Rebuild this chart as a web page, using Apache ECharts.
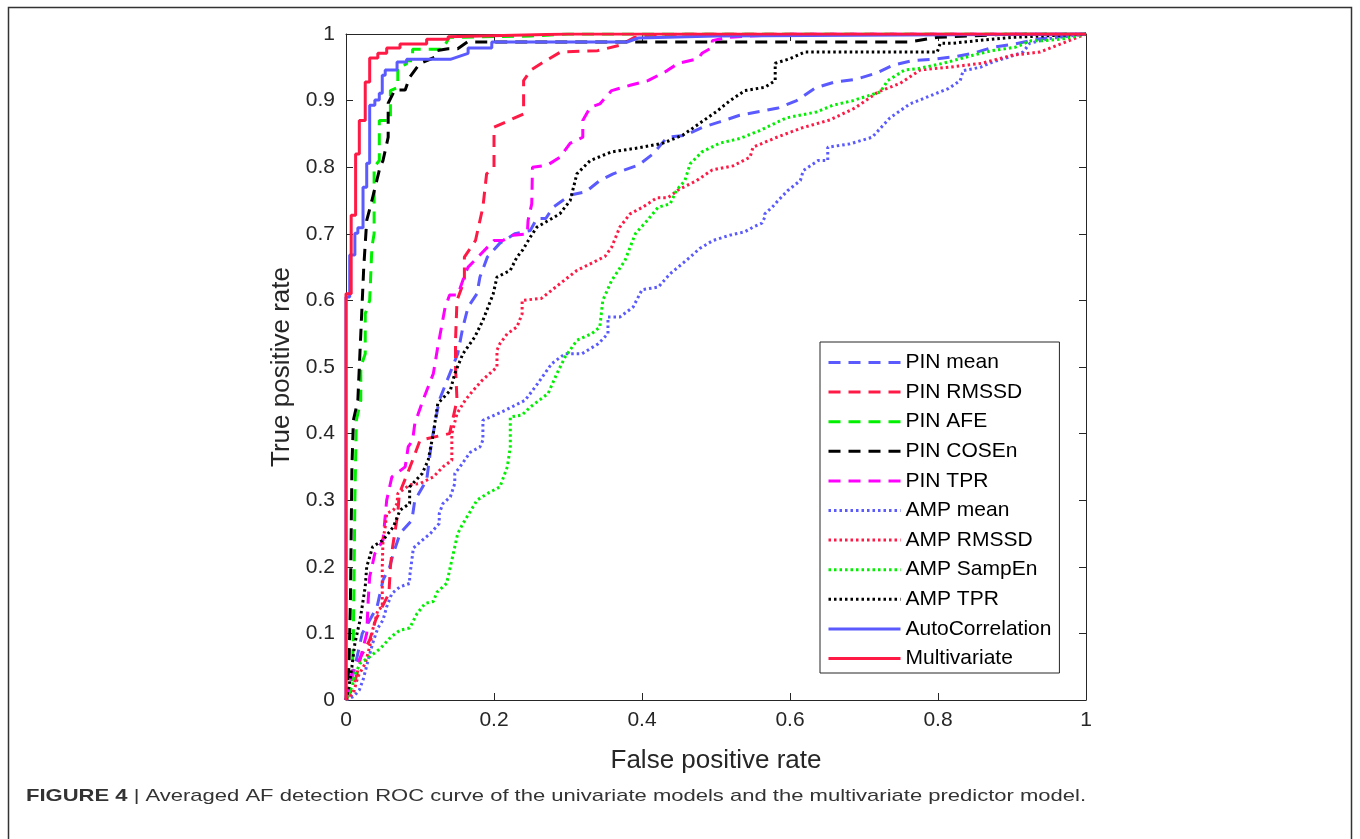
<!DOCTYPE html>
<html>
<head>
<meta charset="utf-8">
<script src="https://cdn.jsdelivr.net/npm/echarts@6/dist/echarts.min.js"></script>
<style>
html,body{margin:0;padding:0;background:#fff;}
#chart{width:1360px;height:839px;}
</style>
</head>
<body>
<div id="chart"></div>
<script>
// ---- Data (x = false positive rate, y = true positive rate) ----
const xTicks = [0, 0.2, 0.4, 0.6, 0.8, 1];
const yTicks = [0, 0.1, 0.2, 0.3, 0.4, 0.5, 0.6, 0.7, 0.8, 0.9, 1];

const pinMean = [[0,0],[0.01,0.04],[0.022,0.1],[0.042,0.14],[0.05,0.18],[0.059,0.2],[0.064,0.22],[0.073,0.25],[0.089,0.27],[0.093,0.3],[0.109,0.33],[0.116,0.39],[0.126,0.45],[0.151,0.52],[0.158,0.56],[0.165,0.59],[0.177,0.61],[0.181,0.635],[0.191,0.665],[0.208,0.686],[0.228,0.7],[0.249,0.705],[0.258,0.723],[0.27,0.723],[0.28,0.74],[0.303,0.758],[0.324,0.763],[0.343,0.78],[0.361,0.79],[0.395,0.803],[0.415,0.82],[0.434,0.845],[0.459,0.848],[0.482,0.86],[0.505,0.868],[0.532,0.878],[0.584,0.889],[0.609,0.9],[0.634,0.919],[0.661,0.928],[0.689,0.932],[0.716,0.941],[0.739,0.953],[0.765,0.96],[0.792,0.962],[0.824,0.966],[0.847,0.971],[0.874,0.98],[0.904,0.985],[0.938,0.993],[1,1]];

const pinRmssd = [[0,0],[0.01,0.02],[0.015,0.04],[0.02,0.065],[0.032,0.09],[0.04,0.12],[0.058,0.16],[0.06,0.2],[0.063,0.23],[0.07,0.28],[0.072,0.31],[0.083,0.34],[0.09,0.36],[0.1,0.39],[0.14,0.4],[0.15,0.45],[0.148,0.5],[0.148,0.54],[0.15,0.6],[0.16,0.63],[0.16,0.665],[0.175,0.69],[0.185,0.74],[0.19,0.79],[0.2,0.8],[0.2,0.86],[0.22,0.87],[0.24,0.88],[0.24,0.93],[0.25,0.946],[0.27,0.96],[0.29,0.973],[0.34,0.975],[0.37,0.983],[0.39,0.995],[0.45,1],[1,1]];

const pinAfe = [[0,0],[0.008,0.02],[0.01,0.1],[0.012,0.3],[0.014,0.42],[0.02,0.45],[0.02,0.5],[0.026,0.52],[0.026,0.58],[0.032,0.6],[0.035,0.68],[0.038,0.7],[0.038,0.8],[0.045,0.81],[0.045,0.87],[0.06,0.87],[0.06,0.915],[0.07,0.92],[0.07,0.95],[0.082,0.955],[0.082,0.96],[0.09,0.96],[0.09,0.977],[0.13,0.977],[0.14,0.995],[0.25,0.997],[0.3,1],[1,1]];

const pinCosen = [[0,0],[0.004,0.05],[0.006,0.15],[0.008,0.35],[0.01,0.42],[0.016,0.45],[0.02,0.55],[0.024,0.65],[0.028,0.72],[0.035,0.75],[0.046,0.8],[0.05,0.81],[0.057,0.845],[0.057,0.896],[0.066,0.916],[0.08,0.916],[0.086,0.935],[0.1,0.956],[0.12,0.965],[0.123,0.975],[0.138,0.978],[0.151,0.978],[0.164,0.988],[0.76,0.988],[0.8,0.995],[0.9,1],[1,1]];

const pinTpr = [[0,0],[0.008,0.04],[0.02,0.065],[0.028,0.1],[0.03,0.15],[0.032,0.185],[0.039,0.22],[0.05,0.24],[0.055,0.3],[0.062,0.335],[0.08,0.35],[0.084,0.38],[0.09,0.39],[0.093,0.415],[0.104,0.45],[0.118,0.49],[0.124,0.53],[0.134,0.59],[0.14,0.608],[0.151,0.608],[0.161,0.64],[0.165,0.65],[0.2,0.69],[0.212,0.69],[0.226,0.698],[0.245,0.7],[0.246,0.72],[0.251,0.745],[0.252,0.8],[0.272,0.803],[0.289,0.815],[0.303,0.836],[0.32,0.845],[0.32,0.87],[0.33,0.89],[0.343,0.895],[0.359,0.915],[0.384,0.923],[0.408,0.93],[0.431,0.943],[0.449,0.956],[0.476,0.963],[0.481,0.971],[0.495,0.98],[0.495,0.99],[0.515,0.995],[0.6,1],[1,1]];

const ampMean = [[0,0],[0.01,0.005],[0.018,0.015],[0.023,0.03],[0.03,0.06],[0.036,0.085],[0.043,0.108],[0.05,0.12],[0.055,0.14],[0.062,0.16],[0.073,0.17],[0.086,0.175],[0.086,0.185],[0.089,0.21],[0.091,0.228],[0.1,0.237],[0.114,0.25],[0.126,0.265],[0.126,0.28],[0.131,0.295],[0.141,0.305],[0.147,0.325],[0.147,0.34],[0.154,0.35],[0.168,0.372],[0.181,0.38],[0.185,0.39],[0.185,0.42],[0.215,0.435],[0.242,0.45],[0.259,0.475],[0.278,0.505],[0.296,0.52],[0.319,0.52],[0.341,0.535],[0.354,0.55],[0.354,0.575],[0.37,0.575],[0.388,0.59],[0.4,0.616],[0.422,0.62],[0.438,0.64],[0.449,0.65],[0.465,0.665],[0.478,0.678],[0.496,0.69],[0.519,0.698],[0.539,0.703],[0.55,0.71],[0.562,0.716],[0.566,0.725],[0.566,0.73],[0.576,0.74],[0.584,0.75],[0.597,0.765],[0.614,0.78],[0.618,0.795],[0.638,0.81],[0.651,0.81],[0.651,0.83],[0.681,0.835],[0.711,0.845],[0.735,0.874],[0.762,0.895],[0.789,0.907],[0.814,0.918],[0.83,0.93],[0.834,0.945],[0.857,0.95],[0.874,0.958],[0.895,0.965],[0.915,0.973],[0.924,0.986],[0.949,0.993],[1,1]];

const ampRmssd = [[0,0],[0.01,0.01],[0.016,0.035],[0.026,0.055],[0.032,0.08],[0.036,0.105],[0.043,0.135],[0.049,0.14],[0.049,0.2],[0.05,0.24],[0.053,0.26],[0.055,0.28],[0.064,0.285],[0.069,0.295],[0.07,0.31],[0.086,0.323],[0.1,0.325],[0.118,0.335],[0.131,0.35],[0.143,0.36],[0.143,0.4],[0.15,0.43],[0.161,0.45],[0.172,0.465],[0.184,0.48],[0.204,0.5],[0.204,0.525],[0.208,0.535],[0.218,0.55],[0.231,0.56],[0.238,0.58],[0.238,0.6],[0.264,0.603],[0.289,0.625],[0.312,0.645],[0.332,0.656],[0.35,0.666],[0.359,0.68],[0.37,0.71],[0.384,0.73],[0.401,0.74],[0.42,0.754],[0.435,0.754],[0.449,0.766],[0.474,0.78],[0.495,0.796],[0.523,0.802],[0.546,0.815],[0.55,0.83],[0.58,0.844],[0.616,0.859],[0.654,0.871],[0.688,0.889],[0.719,0.913],[0.749,0.926],[0.776,0.946],[0.814,0.95],[0.859,0.956],[0.9,0.968],[0.938,0.973],[0.961,0.983],[1,1]];

const ampSampEn = [[0,0],[0.008,0.02],[0.013,0.04],[0.019,0.055],[0.032,0.065],[0.046,0.077],[0.061,0.095],[0.073,0.105],[0.086,0.108],[0.096,0.13],[0.107,0.145],[0.118,0.148],[0.123,0.162],[0.136,0.175],[0.141,0.2],[0.147,0.23],[0.151,0.25],[0.158,0.265],[0.169,0.285],[0.177,0.3],[0.191,0.31],[0.208,0.32],[0.218,0.35],[0.222,0.38],[0.222,0.425],[0.238,0.428],[0.249,0.44],[0.273,0.46],[0.285,0.49],[0.296,0.515],[0.312,0.54],[0.332,0.55],[0.343,0.56],[0.347,0.6],[0.359,0.63],[0.377,0.66],[0.391,0.7],[0.407,0.72],[0.422,0.74],[0.438,0.745],[0.447,0.766],[0.458,0.78],[0.465,0.805],[0.481,0.823],[0.505,0.836],[0.532,0.843],[0.559,0.855],[0.595,0.874],[0.636,0.883],[0.658,0.893],[0.685,0.9],[0.722,0.913],[0.732,0.93],[0.755,0.946],[0.773,0.948],[0.807,0.956],[0.847,0.968],[0.873,0.975],[0.904,0.98],[0.926,0.99],[0.945,0.99],[0.97,0.993],[1,1]];

const ampTpr = [[0,0],[0.004,0.02],[0.008,0.05],[0.012,0.085],[0.019,0.12],[0.026,0.17],[0.028,0.2],[0.036,0.23],[0.05,0.24],[0.064,0.26],[0.073,0.285],[0.086,0.295],[0.086,0.32],[0.103,0.34],[0.111,0.36],[0.118,0.4],[0.124,0.445],[0.141,0.465],[0.147,0.49],[0.158,0.52],[0.174,0.545],[0.185,0.57],[0.192,0.59],[0.199,0.61],[0.204,0.635],[0.222,0.645],[0.231,0.665],[0.239,0.676],[0.249,0.695],[0.258,0.71],[0.289,0.73],[0.303,0.75],[0.312,0.79],[0.33,0.81],[0.359,0.823],[0.395,0.829],[0.428,0.836],[0.455,0.848],[0.478,0.866],[0.5,0.883],[0.519,0.9],[0.539,0.915],[0.566,0.92],[0.58,0.93],[0.58,0.956],[0.6,0.963],[0.62,0.973],[0.799,0.973],[0.803,0.986],[0.819,0.986],[0.861,0.991],[0.9,0.995],[1,1]];

const autoCorr = [[0,0],[0,0.605],[0.005,0.605],[0.005,0.668],[0.012,0.668],[0.012,0.701],[0.016,0.701],[0.016,0.709],[0.023,0.709],[0.023,0.77],[0.028,0.77],[0.028,0.806],[0.032,0.806],[0.032,0.893],[0.039,0.893],[0.039,0.901],[0.045,0.901],[0.045,0.911],[0.049,0.911],[0.049,0.938],[0.053,0.938],[0.053,0.946],[0.069,0.946],[0.069,0.958],[0.082,0.958],[0.082,0.962],[0.141,0.962],[0.165,0.971],[0.165,0.979],[0.197,0.979],[0.197,0.988],[0.38,0.988],[0.395,0.994],[0.5,0.997],[1,1]];

const multivariate = [[0,0],[0,0.61],[0.007,0.61],[0.007,0.728],[0.013,0.728],[0.013,0.82],[0.018,0.82],[0.018,0.87],[0.026,0.87],[0.026,0.928],[0.032,0.928],[0.032,0.964],[0.043,0.964],[0.043,0.971],[0.055,0.971],[0.055,0.979],[0.073,0.979],[0.073,0.985],[0.109,0.985],[0.109,0.992],[0.138,0.992],[0.138,0.996],[0.3,1],[1,1]];

const seriesNames = ['PIN mean','PIN RMSSD','PIN AFE','PIN COSEn','PIN TPR','AMP mean','AMP RMSSD','AMP SampEn','AMP TPR','AutoCorrelation','Multivariate'];
const seriesData = [pinMean, pinRmssd, pinAfe, pinCosen, pinTpr, ampMean, ampRmssd, ampSampEn, ampTpr, autoCorr, multivariate];

// ---- Styles ----
const BLUE = '#5a5aff', RED = '#ff1a46', GREEN = '#00f000', BLACK = '#000000', MAGENTA = '#ff00ff';
const seriesColors = [BLUE, RED, GREEN, BLACK, MAGENTA, BLUE, RED, GREEN, BLACK, BLUE, RED];
const DASH = [12, 8], DOT = [2.5, 3];
const seriesDash = [DASH, DASH, DASH, DASH, DASH, DOT, DOT, DOT, DOT, 'solid', 'solid'];
const FONT = "'Liberation Sans', Arial, Helvetica, sans-serif";
const AX = '#262626';

const chart = echarts.init(document.getElementById('chart'), null, {renderer: 'canvas'});

const series = seriesNames.map((n, i) => ({
  name: n,
  type: 'line',
  data: seriesData[i],
  xAxisIndex: 0,
  yAxisIndex: 0,
  showSymbol: false,
  symbol: 'none',
  animation: false,
  lineStyle: {color: seriesColors[i], width: 3, type: seriesDash[i], cap: 'butt'},
  itemStyle: {color: seriesColors[i]},
  z: 2 + i
}));

const axisCommon = {
  type: 'value', min: 0, max: 1,
  splitLine: {show: false},
  axisLine: {show: true, onZero: false, lineStyle: {color: AX, width: 1}},
  axisTick: {show: true, inside: true, length: 7, lineStyle: {color: AX, width: 1}},
};

const option = {
  backgroundColor: '#ffffff',
  animation: false,
  grid: {left: 346, right: 274, top: 34, bottom: 139, containLabel: false},
  xAxis: [
    Object.assign({}, axisCommon, {
      position: 'bottom', interval: 0.2,
      axisLabel: {show: true, margin: 10, fontSize: 21, color: AX, fontFamily: FONT},
      name: 'False positive rate', nameLocation: 'middle', nameGap: 48,
      nameTextStyle: {fontSize: 26, color: AX, fontFamily: FONT}
    }),
    Object.assign({}, axisCommon, {position: 'top', interval: 0.2, axisLabel: {show: false}})
  ],
  yAxis: [
    Object.assign({}, axisCommon, {
      position: 'left', interval: 0.1,
      axisLabel: {show: true, margin: 11, fontSize: 21, color: AX, fontFamily: FONT},
      name: 'True positive rate', nameLocation: 'middle', nameGap: 51,
      nameTextStyle: {fontSize: 26, color: AX, fontFamily: FONT}
    }),
    Object.assign({}, axisCommon, {position: 'right', interval: 0.1, axisLabel: {show: false}})
  ],
  legend: {
    data: seriesNames,
    orient: 'vertical',
    left: 820, top: 342,
    itemWidth: 72, itemHeight: 14, itemGap: 8.6,
    padding: [10, 8, 4, 7],
    backgroundColor: '#ffffff',
    borderColor: AX, borderWidth: 1,
    itemStyle: {opacity: 0, borderWidth: 0},
    lineStyle: {width: 3},
    textStyle: {fontSize: 21, color: '#000', fontFamily: FONT},
    selectedMode: false
  },
  graphic: [
    {type: 'rect', silent: true, z: -10,
     shape: {x: 8.5, y: 7.5, width: 1343, height: 900},
     style: {fill: 'none', stroke: '#333', lineWidth: 1.5}},
    {type: 'text', silent: true, x: 26, y: 788, scaleX: 1.295,
     style: {
       text: '{b|FIGURE 4} | Averaged AF detection ROC curve of the univariate models and the multivariate predictor model.',
       font: "17px 'Liberation Sans', Arial, sans-serif",
       fill: '#333',
       rich: {b: {fontWeight: 'bold', fontSize: 17, fontFamily: FONT, fill: '#333'}}
     }}
  ],
  series: series
};
chart.setOption(option);
</script>
</body>
</html>
